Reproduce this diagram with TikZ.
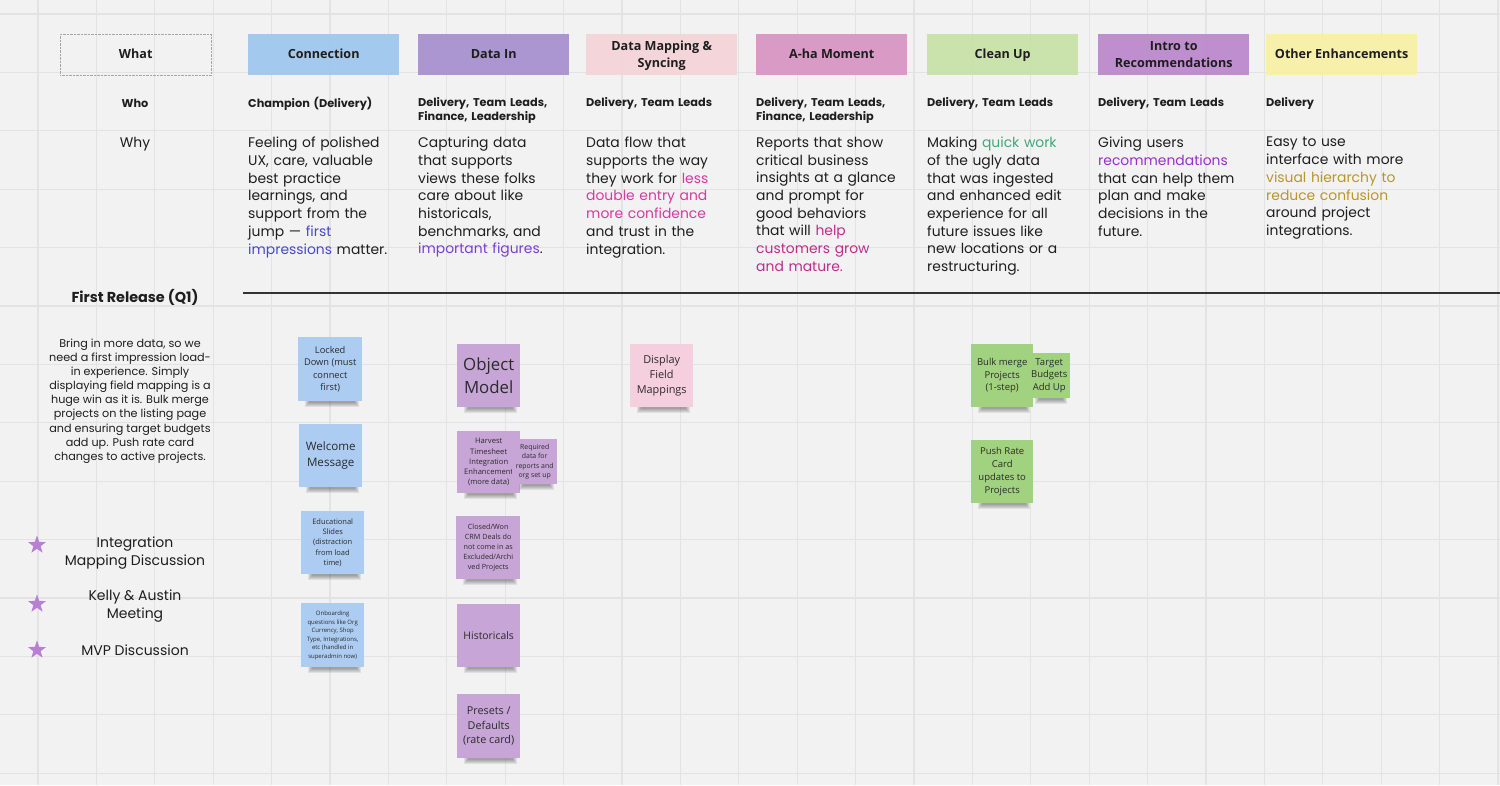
\documentclass[tikz,border=0pt]{standalone}
\usepackage{fontspec}
\setmainfont{Poppins}
\newfontfamily\osans{Open Sans}
\usetikzlibrary{shapes.geometric}
\definecolor{bgc}{HTML}{F2F2F2}
\definecolor{gridc}{HTML}{E3E3E3}
\definecolor{txt}{HTML}{1E1E1E}
\definecolor{stxt}{HTML}{2B2B2B}
\definecolor{cConn}{HTML}{9DC6EF}
\definecolor{cData}{HTML}{A68FCF}
\definecolor{cMap}{HTML}{F5D4D9}
\definecolor{cAha}{HTML}{D993C3}
\definecolor{cClean}{HTML}{C7E1A5}
\definecolor{cIntro}{HTML}{BA86CB}
\definecolor{cOther}{HTML}{F7F0A5}
\definecolor{sBlue}{HTML}{ADCCF2}
\definecolor{sPurple}{HTML}{C7A5D6}
\definecolor{sPink}{HTML}{F6CFDF}
\definecolor{sGreen}{HTML}{A0D27F}
\definecolor{kBlue}{HTML}{4848CF}
\definecolor{kPurple}{HTML}{7A3ED2}
\definecolor{kPink}{HTML}{D63A9E}
\definecolor{kMag}{HTML}{BF2B8D}
\definecolor{kGreen}{HTML}{3DAA7B}
\definecolor{kViolet}{HTML}{9A2FC8}
\definecolor{kGold}{HTML}{B8962A}
\definecolor{starc}{HTML}{B880D2}
\definecolor{rulec}{HTML}{333333}
\newcommand\hs{\rule[-3.6pt]{0pt}{15pt}}
\newcommand\mysticky[9]{%
  \foreach \k in {0,...,4}{\fill[black,opacity=0.075] ({#2+7+\k},{#5-3}) rectangle ({#4-3-\k},{#5+6-\k});}
  \node[sticky,fill=#6,minimum width={#4-#2},minimum height={#5-#3},anchor=north west,
        font={\osans\fontsize{#7}{#8}\selectfont}] (#1) at (#2,#3) {#9};}
\begin{document}
\begin{tikzpicture}[x=1pt,y=-1pt,
  hdr/.style={minimum width=151pt,minimum height=41pt,inner sep=0pt,align=center,anchor=north west,
     font={\osans\bfseries\fontsize{12.6}{17}\selectfont},text=txt,fill opacity=0.92,text opacity=1},
  who/.style={anchor=north west,inner sep=0pt,align=left,text width=170pt,
     font={\bfseries\fontsize{11.3}{14}\selectfont},text=txt},
  why/.style={anchor=north west,inner sep=0pt,align=left,text width=170pt,
     font={\fontsize{13.9}{17.7}\selectfont},text=txt},
  sticky/.style={inner sep=0pt,align=center,text=stxt},
  startag/.style={star,star points=5,star point ratio=2.5,fill=starc,minimum size=19pt,inner sep=0pt},
  lefttxt/.style={align=center,inner sep=0pt,text=txt}]
\useasboundingbox (0,0) rectangle (1500,785);
\fill[bgc] (0,0) rectangle (1500,785);
\foreach \i in {0,...,25}{\draw[gridc,line width=1.3pt] ({38+\i*58.4},0) -- ({38+\i*58.4},785);}
\foreach \j in {0,...,13}{\draw[gridc,line width=1.3pt] (0,{14+\j*58.4}) -- (1500,{14+\j*58.4});}
% header row
\node[hdr,draw=gray!70,densely dotted,fill=none] (hWhat) at (60,34) {\hs What};
\node[hdr,fill=cConn] (hConn) at (248,34) {\hs Connection};
\node[hdr,fill=cData] (hData) at (418,34) {\hs Data In};
\node[hdr,fill=cMap] (hMap) at (586,34) {\hs Data Mapping \&\\\hs Syncing};
\node[hdr,fill=cAha] (hAha) at (756,34) {\hs A-ha Moment};
\node[hdr,fill=cClean] (hClean) at (927,34) {\hs Clean Up};
\node[hdr,fill=cIntro] (hIntro) at (1098,34) {\hs Intro to\\\hs Recommendations};
\node[hdr,fill=cOther] (hOther) at (1266,34) {\hs Other Enhancements};
% who row
\node[lefttxt,font={\bfseries\fontsize{11.3}{14}\selectfont}] (wWho) at (135,103) {Who};
\node[who] (wConn) at (248,97) {Champion (Delivery)};
\node[who] (wData) at (418,97) {Delivery, Team Leads,\\Finance, Leadership};
\node[who] (wMap) at (586,97) {Delivery, Team Leads};
\node[who] (wAha) at (756,97) {Delivery, Team Leads,\\Finance, Leadership};
\node[who] (wClean) at (927,97) {Delivery, Team Leads};
\node[who] (wIntro) at (1098,97) {Delivery, Team Leads};
\node[who] (wOther) at (1266,97) {Delivery};
% why row
\node[lefttxt,font={\fontsize{13.9}{17.7}\selectfont}] (yWhy) at (135,144) {Why};
\node[why] (yConn) at (248,137) {Feeling of polished\\UX, care, valuable\\best practice\\learnings, and\\support from the\\jump — \textcolor{kBlue}{first}\\\textcolor{kBlue}{impressions} matter.};
\node[why] (yData) at (418,137) {Capturing data\\that supports\\views these folks\\care about like\\historicals,\\benchmarks, and\\\textcolor{kPurple}{important figures}.};
\node[why] (yMap) at (586,137) {Data flow that\\supports the way\\they work for \textcolor{kPink}{less}\\\textcolor{kPink}{double entry and}\\\textcolor{kPink}{more confidence}\\and trust in the\\integration.};
\node[why] (yAha) at (756,137) {Reports that show\\critical business\\insights at a glance\\and prompt for\\good behaviors\\that will \textcolor{kMag}{help}\\\textcolor{kMag}{customers grow}\\\textcolor{kMag}{and mature.}};
\node[why] (yClean) at (927,137) {Making \textcolor{kGreen}{quick work}\\of the ugly data\\that was ingested\\and enhanced edit\\experience for all\\future issues like\\new locations or a\\restructuring.};
\node[why] (yIntro) at (1098,137) {Giving users\\\textcolor{kViolet}{recommendations}\\that can help them\\plan and make\\decisions in the\\future.};
\node[why] (yOther) at (1266,137) {Easy to use\\interface with more\\\textcolor{kGold}{visual hierarchy to}\\\textcolor{kGold}{reduce confusion}\\around project\\integrations.};
% release divider
\node[lefttxt,font={\bfseries\fontsize{14.4}{17}\selectfont}] (rel) at (135,297) {First Release (Q1)};
\coordinate (ruleL) at (243,293);
\coordinate (ruleR) at (1500,293);
\draw[rulec,line width=2.4pt] (ruleL) -- (ruleR);
\node[lefttxt,font={\fontsize{11.2}{14.15}\selectfont}] (para) at (130,401) {Bring in more data, so we\\need a first impression load-\\in experience. Simply\\displaying field mapping is a\\huge win as it is. Bulk merge\\projects on the listing page\\and ensuring target budgets\\add up. Push rate card\\changes to active projects.};
% stars
\node[startag] (st1) at (37,545) {};
\node[startag] (st2) at (37,604) {};
\node[startag] (st3) at (37,650) {};
\node[lefttxt,font={\fontsize{14}{17.5}\selectfont}] (l1) at (135,553) {Integration\\Mapping Discussion};
\node[lefttxt,font={\fontsize{14}{17.5}\selectfont}] (l2) at (135,606) {Kelly \& Austin\\Meeting};
\node[lefttxt,font={\fontsize{14}{17.5}\selectfont}] (l3) at (135,650) {MVP Discussion};
% sticky notes: Connection
\mysticky{nLock}{298}{337}{362}{401}{sBlue}{9.3}{12.3}{Locked\\Down (must\\connect\\first)}
\mysticky{nWelcome}{299}{424}{362}{487}{sBlue}{11.6}{16}{Welcome\\Message}
\mysticky{nEdu}{301}{511}{364}{574}{sBlue}{7.5}{10.4}{Educational\\Slides\\(distraction\\from load\\time)}
\mysticky{nOnb}{301}{603}{364}{667}{sBlue}{6.0}{8.5}{Onboarding\\questions like Org\\Currency, Shop\\Type, Integrations,\\etc (handled in\\superadmin now)}
% Data In
\mysticky{nObj}{457}{344}{520}{407}{sPurple}{16.8}{22.7}{Object\\Model}
\mysticky{nHarv}{457}{431}{520}{493}{sPurple}{7.6}{10.2}{Harvest\\Timesheet\\Integration\\Enhancement\\(more data)}
\mysticky{nReq}{512}{439}{557}{484}{sPurple}{6.9}{9.4}{Required\\data for\\reports and\\org set up}
\mysticky{nCRM}{456}{516}{520}{579}{sPurple}{7.2}{10}{Closed/Won\\CRM Deals do\\not come in as\\Excluded/Archi\\ved Projects}
\mysticky{nHist}{457}{604}{520}{667}{sPurple}{10.4}{15}{Historicals}
\mysticky{nPre}{457}{694}{520}{758}{sPurple}{10.8}{14.7}{Presets /\\Defaults\\(rate card)}
% Data Mapping
\mysticky{nDisp}{630}{344}{693}{407}{sPink}{10.9}{15}{Display\\Field\\Mappings}
% Clean Up
\mysticky{nBulk}{971}{344}{1033}{407}{sGreen}{9.5}{12.8}{Bulk merge\\Projects\\(1-step)}
\mysticky{nTarget}{1028}{353}{1070}{398}{sGreen}{9.5}{12.6}{Target\\Budgets\\Add Up}
\mysticky{nPush}{971}{440}{1033}{503}{sGreen}{9.5}{13}{Push Rate\\Card\\updates to\\Projects}
\end{tikzpicture}
\end{document}
